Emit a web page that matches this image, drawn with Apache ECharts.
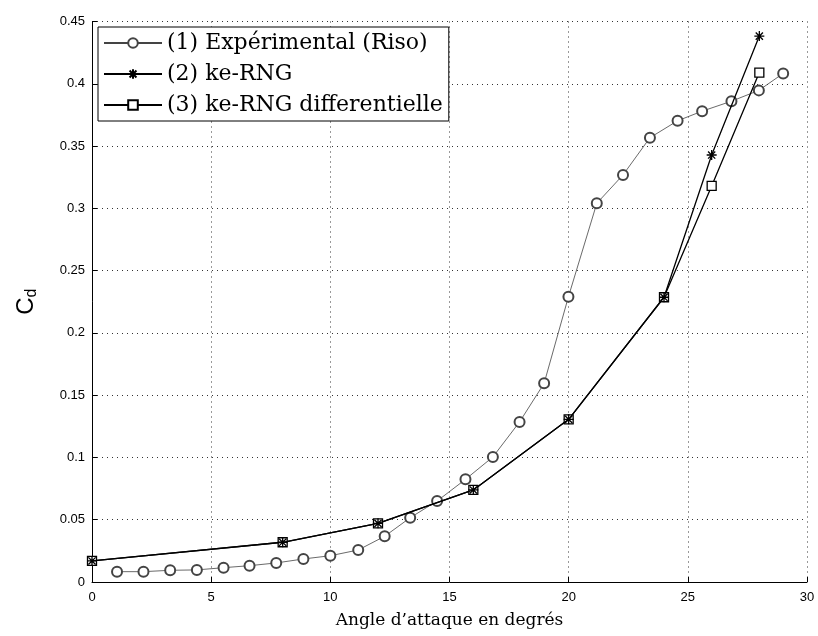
<!DOCTYPE html>
<html>
<head>
<meta charset="utf-8">
<script src="https://cdn.jsdelivr.net/npm/echarts@6/dist/echarts.min.js"></script>
<style>html,body{margin:0;padding:0;background:#fff}#c{width:818px;height:636px}</style>
</head>
<body>
<div id="c"></div>
<script>
const expX = [1.05, 2.16, 3.28, 4.4, 5.52, 6.61, 7.73, 8.87, 10.0, 11.17, 12.28, 13.35, 14.48, 15.67, 16.82, 17.94, 18.97, 19.99, 21.18, 22.28, 23.41, 24.57, 25.6, 26.83, 27.98, 29.0];
const expY = [0.0083, 0.0083, 0.0094, 0.0097, 0.0115, 0.0131, 0.0153, 0.0185, 0.0211, 0.0257, 0.0367, 0.0516, 0.065, 0.0824, 0.1004, 0.1285, 0.1595, 0.229, 0.304, 0.3268, 0.3567, 0.3703, 0.378, 0.386, 0.3947, 0.4083];
const rngX = [0, 8, 12, 16, 20, 24, 26, 28];
const rngY = [0.0169, 0.0319, 0.0471, 0.0739, 0.1306, 0.2286, 0.3428, 0.4383];
const difX = [0, 8, 12, 16, 20, 24, 26, 28];
const difY = [0.0169, 0.0319, 0.0471, 0.0739, 0.1306, 0.2286, 0.318, 0.409];
const names = ['(1) Expérimental (Riso)', '(2) ke-RNG', '(3) ke-RNG differentielle'];

const zip = (xs, ys) => xs.map((x, i) => [x, ys[i]]);
const star = 'path://M0,-5L0,5M-5,0L5,0M-3.6,-3.6L3.6,3.6M-3.6,3.6L3.6,-3.6';

const chart = echarts.init(document.getElementById('c'), null, {renderer: 'canvas'});
const axisCommon = {
  axisLine: {show: true, onZero: false, lineStyle: {color: '#000', width: 1}},
  axisTick: {show: true, inside: true, length: 5, lineStyle: {color: '#000'}},
  splitLine: {show: true, lineStyle: {color: '#333', type: [1, 4], width: 1}},
  axisLabel: {color: '#000', fontFamily: 'Liberation Sans, Arial, sans-serif', fontSize: 13}
};
chart.setOption({
  animation: false,
  backgroundColor: '#fff',
  grid: {left: 92, right: 11, top: 21.5, bottom: 54, containLabel: false},
  xAxis: Object.assign({}, axisCommon, {
    type: 'value', min: 0, max: 30, interval: 5,
    name: 'Angle d’attaque en degrés', nameLocation: 'middle', nameGap: 30,
    nameTextStyle: {fontFamily: 'DejaVu Serif, serif', fontSize: 17, color: '#000'},
    axisLabel: Object.assign({}, axisCommon.axisLabel, {margin: 9})
  }),
  yAxis: Object.assign({}, axisCommon, {
    type: 'value', min: 0, max: 0.45, interval: 0.05,
    name: '{a|C}{b|d}', nameLocation: 'middle', nameGap: 52, nameRotate: 90,
    nameTextStyle: {rich: {
      a: {fontFamily: 'Liberation Sans, Arial, sans-serif', fontSize: 24, color: '#000'},
      b: {fontFamily: 'Liberation Sans, Arial, sans-serif', fontSize: 16, color: '#000', verticalAlign: 'bottom', padding: [12, 0, 0, 0]}
    }},
    axisLabel: Object.assign({}, axisCommon.axisLabel, {margin: 7, formatter: v => (Math.round(v * 100) / 100).toString()})
  }),
  legend: {
    orient: 'vertical', left: 98, top: 27,
    backgroundColor: '#fff', borderColor: '#000', borderWidth: 1,
    padding: [5, 6, 5, 5], itemGap: 9, itemWidth: 58, itemHeight: 12,
    textStyle: {fontFamily: 'DejaVu Serif, serif', fontSize: 22, color: '#000'},
    data: names
  },
  series: [
    {name: names[0], type: 'line', data: zip(expX, expY), symbol: 'emptyCircle', symbolSize: 10,
     lineStyle: {color: '#444', width: 0.8}, itemStyle: {color: '#444', borderWidth: 0.7}, z: 1},
    {name: names[1], type: 'line', data: zip(rngX, rngY), symbol: star, symbolSize: 10,
     lineStyle: {color: '#000', width: 1.3}, itemStyle: {color: '#000', borderColor: '#000', borderWidth: 1.3}, z: 3},
    {name: names[2], type: 'line', data: zip(difX, difY), symbol: 'rect', symbolSize: 9,
     lineStyle: {color: '#000', width: 1.3}, itemStyle: {color: '#fff', borderColor: '#000', borderWidth: 1.3}, z: 2}
  ]
});
</script>
</body>
</html>
